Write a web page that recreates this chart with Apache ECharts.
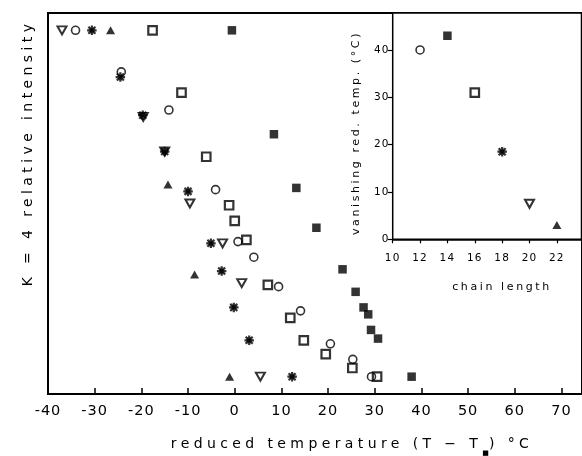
<!DOCTYPE html>
<html>
<head>
<meta charset="utf-8">
<script src="https://cdn.jsdelivr.net/npm/echarts@6/dist/echarts.min.js"></script>
<style>
  html, body { margin: 0; padding: 0; background: #fff; }
  #chart { width: 582px; height: 456px; }
</style>
</head>
<body>
<div id="chart"></div>
<script>
// K = 4 band intensity against reduced temperature, one series per chain length
const c12Temp = [-34.1, -24.3, -14.1, -4.1, 0.7, 4.1, 9.4, 14.1, 20.5, 25.3, 29.3];
const c12Int  = [1.00, 0.88, 0.77, 0.54, 0.39, 0.345, 0.26, 0.19, 0.095, 0.05, 0.0];

const c14Temp = [-0.6, 8.4, 13.2, 17.5, 23.1, 25.9, 27.6, 28.6, 29.2, 30.7, 37.9];
const c14Int  = [1.00, 0.70, 0.545, 0.43, 0.31, 0.245, 0.20, 0.18, 0.135, 0.11, 0.0];

const c16Temp = [-17.6, -11.4, -6.1, -1.2, 0.0, 2.5, 7.1, 11.9, 14.8, 19.5, 25.2, 30.5];
const c16Int  = [1.00, 0.82, 0.635, 0.495, 0.45, 0.395, 0.265, 0.17, 0.105, 0.065, 0.025, 0.0];

const c18Temp = [-30.6, -24.5, -19.7, -15.0, -10.0, -5.1, -2.8, -0.2, 3.1, 12.3];
const c18Int  = [1.00, 0.865, 0.755, 0.65, 0.535, 0.385, 0.305, 0.20, 0.105, 0.0];

const c20Temp = [-37.0, -19.6, -15.0, -9.6, -2.6, 1.5, 5.5];
const c20Int  = [1.00, 0.75, 0.65, 0.50, 0.385, 0.27, 0.0];

const c22Temp = [-26.6, -14.3, -8.6, -1.1];
const c22Int  = [1.00, 0.555, 0.295, 0.0];

// Inset: temperature at which the band vanishes, per chain length
const chainLengths   = [12, 14, 16, 18, 20, 22];
const vanishingTemps = [40, 43, 31, 18.5, 7.5, 3];

// Axis tick values
const mainTicks   = [-40, -30, -20, -10, 0, 10, 20, 30, 40, 50, 60, 70];
const insetXTicks = [10, 12, 14, 16, 18, 20, 22];
const insetYTicks = [0, 10, 20, 30, 40];

// Wide plotter-style tracking: letter spacing picked by font size
const spacingBySize = { 14: 4.4, 14.5: 1.0, 11: 2.6, 10.5: 1.2 };
(function () {
  const proto = CanvasRenderingContext2D.prototype;
  const setSpacing = function (ctx) {
    const m = /(\d+(?:\.\d+)?)px/.exec(ctx.font || '');
    const px = m ? parseFloat(m[1]) : 0;
    ctx.letterSpacing = (spacingBySize[px] || 0) + 'px';
  };
  const origMeasure = proto.measureText;
  const origFill = proto.fillText;
  const origStroke = proto.strokeText;
  proto.measureText = function (t) { setSpacing(this); return origMeasure.call(this, t); };
  proto.fillText = function () { setSpacing(this); return origFill.apply(this, arguments); };
  proto.strokeText = function () { setSpacing(this); return origStroke.apply(this, arguments); };
})();

const FONT = 'DejaVu Sans';
const pairs = (xs, ys) => xs.map((x, i) => [x, ys[i]]);

// Eight-spoke asterisk with a solid core
const starPath = 'path://M5,0L5,10M0,5L10,5M1.3,1.3L8.7,8.7M1.3,8.7L8.7,1.3M2.8,2.8L7.2,2.8L7.2,7.2L2.8,7.2Z';

const markers = {
  circle:  { symbol: 'circle', symbolSize: 8, itemStyle: { color: 'rgba(0,0,0,0)', borderColor: '#000', borderWidth: 1.6 } },
  fsquare: { symbol: 'rect', symbolSize: 8.5, itemStyle: { color: '#000' } },
  osquare: { symbol: 'rect', symbolSize: 8.5, itemStyle: { color: 'rgba(0,0,0,0)', borderColor: '#000', borderWidth: 2.2 } },
  star:    { symbol: starPath, symbolSize: 9.5, itemStyle: { color: '#000', borderColor: '#000', borderWidth: 2.2 } },
  tridown: { symbol: 'triangle', symbolSize: [9, 8], symbolRotate: 180, itemStyle: { color: 'rgba(0,0,0,0)', borderColor: '#000', borderWidth: 2 } },
  ftri:    { symbol: 'triangle', symbolSize: [9, 8], itemStyle: { color: '#000' } }
};

function scatter(name, data, mk, xi, yi) {
  return Object.assign({
    type: 'scatter', name: name, data: data,
    xAxisIndex: xi, yAxisIndex: yi, silent: true, z: 3
  }, mk);
}

const mainSeries = [
  scatter('C12', pairs(c12Temp, c12Int), markers.circle, 0, 0),
  scatter('C14', pairs(c14Temp, c14Int), markers.fsquare, 0, 0),
  scatter('C16', pairs(c16Temp, c16Int), markers.osquare, 0, 0),
  scatter('C18', pairs(c18Temp, c18Int), markers.star, 0, 0),
  scatter('C20', pairs(c20Temp, c20Int), markers.tridown, 0, 0),
  scatter('C22', pairs(c22Temp, c22Int), markers.ftri, 0, 0)
];
const insetKinds = [markers.circle, markers.fsquare, markers.osquare, markers.star, markers.tridown, markers.ftri];
const insetSeries = chainLengths.map((n, i) =>
  scatter('C' + n, [[n, vanishingTemps[i]]], insetKinds[i], 1, 1));

const chart = echarts.init(document.getElementById('chart'), null, { renderer: 'canvas' });

chart.setOption({
  animation: false,
  backgroundColor: '#fff',
  textStyle: { fontFamily: FONT, color: '#000' },
  grid: [
    { left: 48, right: 0, top: 13, bottom: 62, show: true, borderColor: '#000', borderWidth: 2 },
    { left: 392.7, right: 0.5, top: 13, bottom: 216.7, show: true, borderColor: '#000', borderWidth: 1.5, backgroundColor: '#fff', z: 2 }
  ],
  xAxis: [
    {
      type: 'value', gridIndex: 0, min: -40, max: 74.4, interval: 10,
      splitLine: { show: false },
      axisLine: { onZero: false, lineStyle: { color: '#000', width: 2 } },
      axisTick: { inside: true, length: 6, lineStyle: { color: '#000', width: 1.5 }, customValues: mainTicks },
      axisLabel: { fontSize: 14.5, fontFamily: FONT, color: '#000', margin: 9, customValues: mainTicks }
    },
    {
      type: 'value', gridIndex: 1, min: 10, max: 23.8, interval: 2,
      splitLine: { show: false },
      axisLine: { onZero: false, lineStyle: { color: '#000', width: 1.5 } },
      axisTick: { inside: false, length: 4, lineStyle: { color: '#000', width: 1.2 }, customValues: insetXTicks },
      axisLabel: { fontSize: 10.5, fontFamily: FONT, color: '#000', margin: 13, customValues: insetXTicks }
    }
  ],
  yAxis: [
    {
      type: 'value', gridIndex: 0, min: -0.05, max: 1.05,
      splitLine: { show: false },
      axisLine: { show: true, onZero: false, lineStyle: { color: '#000', width: 2 } },
      axisTick: { show: false },
      axisLabel: { show: false }
    },
    {
      type: 'value', gridIndex: 1, min: 0, max: 47.8, interval: 10,
      splitLine: { show: false },
      axisLine: { show: true, onZero: false, lineStyle: { color: '#000', width: 1.5 } },
      axisTick: { inside: false, length: 5, lineStyle: { color: '#000', width: 1.2 }, customValues: insetYTicks },
      axisLabel: { fontSize: 10.5, fontFamily: FONT, color: '#000', margin: 3, customValues: insetYTicks }
    }
  ],
  graphic: [
    {
      type: 'text', x: 28, y: 153, rotation: Math.PI / 2,
      style: { text: 'K = 4 relative intensity', font: '14px "DejaVu Sans"', fill: '#000', align: 'center', verticalAlign: 'middle' }
    },
    {
      type: 'text', x: 352, y: 444,
      style: {
        text: 'reduced temperature (T − T{sub|■}) °C',
        font: '14px "DejaVu Sans"', fill: '#000', align: 'center', verticalAlign: 'middle',
        rich: { sub: { fontSize: 7, fontFamily: FONT, lineHeight: 25, verticalAlign: 'bottom' } }
      }
    },
    {
      type: 'text', x: 356, y: 133, rotation: Math.PI / 2, z: 10,
      style: { text: 'vanishing red. temp. (°C)', font: '11px "DejaVu Sans"', fill: '#000', align: 'center', verticalAlign: 'middle' }
    },
    {
      type: 'text', x: 502, y: 287, z: 10,
      style: { text: 'chain length', font: '11px "DejaVu Sans"', fill: '#000', align: 'center', verticalAlign: 'middle' }
    }
  ],
  series: mainSeries.concat(insetSeries)
});
</script>
</body>
</html>
